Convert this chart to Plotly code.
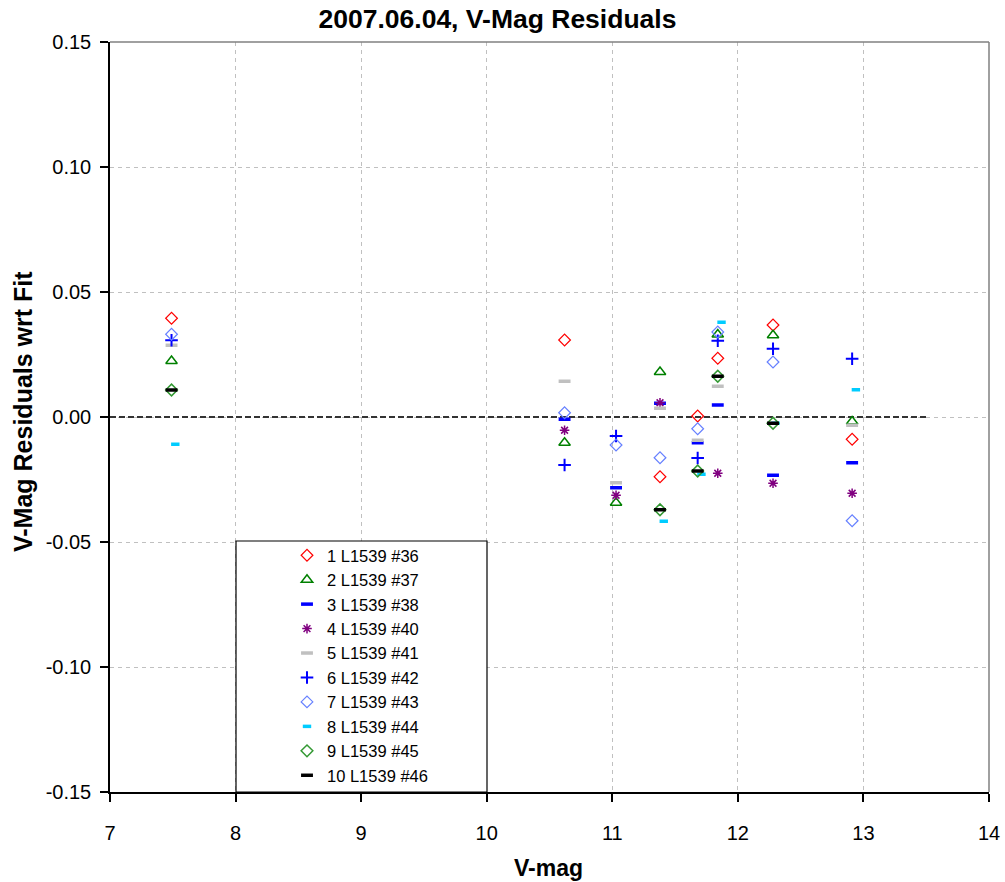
import plotly.graph_objects as go

# ---- data ----
series_names = ["1 L1539 #36", "2 L1539 #37", "3 L1539 #38", "4 L1539 #40", "5 L1539 #41",
                "6 L1539 #42", "7 L1539 #43", "8 L1539 #44", "9 L1539 #45", "10 L1539 #46"]

s1_x = [7.49, 10.62, 11.38, 11.68, 11.84, 12.28, 12.91]
s1_y = [0.0395, 0.0308, -0.0239, 0.0004, 0.0235, 0.0368, -0.0089]

s2_x = [7.49, 10.62, 11.03, 11.38, 11.84, 12.28, 12.91]
s2_y = [0.0224, -0.0103, -0.0343, 0.0180, 0.0330, 0.0327, -0.0018]

s3_x = [10.62, 11.03, 11.38, 11.68, 11.84, 12.28, 12.91]
s3_y = [-0.0009, -0.0283, 0.0055, -0.0103, 0.0048, -0.0233, -0.0183]

s4_x = [10.62, 11.03, 11.38, 11.84, 12.28, 12.91]
s4_y = [-0.0053, -0.0313, 0.0057, -0.0225, -0.0265, -0.0305]

s5_x = [7.49, 10.62, 11.03, 11.38, 11.68, 11.84, 12.91]
s5_y = [0.0287, 0.0143, -0.0263, 0.0035, -0.0093, 0.0123, -0.0033]

s6_x = [7.49, 10.62, 11.03, 11.68, 11.84, 12.28, 12.91]
s6_y = [0.0307, -0.0192, -0.0076, -0.0164, 0.0305, 0.0273, 0.0233]

s7_x = [7.49, 10.62, 11.03, 11.38, 11.68, 11.84, 12.28, 12.91]
s7_y = [0.0331, 0.0017, -0.0112, -0.0163, -0.0047, 0.0340, 0.0220, -0.0415]

s8_x = [7.52, 11.41, 11.71, 11.87, 12.30, 12.94]
s8_y = [-0.0109, -0.0417, -0.0229, 0.0379, -0.0025, 0.0109]

s9_x = [7.49, 11.38, 11.68, 11.84, 12.28]
s9_y = [0.0108, -0.0371, -0.0216, 0.0163, -0.0025]

s10_x = [7.49, 11.38, 11.68, 11.84, 12.28]
s10_y = [0.0108, -0.0371, -0.0216, 0.0163, -0.0025]

fit_x = [7.0, 13.5]
fit_y = [0.0, 0.0]

x_tick_vals = [7, 8, 9, 10, 11, 12, 13, 14]
y_tick_vals = [0.15, 0.10, 0.05, 0.0, -0.05, -0.10, -0.15]
y_tick_text = ["0.15", "0.10", "0.05", "0.00", "-0.05", "-0.10", "-0.15"]

FONT = "Liberation Sans, Arial, sans-serif"

styles = [
    dict(symbol="diamond-open", size=9, color="#FF0000", lw=1.2),
    dict(symbol="triangle-up-open", size=10, color="#008000", lw=1.5),
    dict(symbol="line-ew-open", size=8.5, color="#0000FF", lw=3.5),
    dict(symbol="asterisk-open", size=8, color="#800080", lw=1.5),
    dict(symbol="line-ew-open", size=8.5, color="#C0C0C0", lw=3.5),
    dict(symbol="cross-thin-open", size=9, color="#0000FF", lw=2),
    dict(symbol="diamond-open", size=9, color="#6680FF", lw=1.2),
    dict(symbol="line-ew-open", size=6, color="#00CCFF", lw=3.5),
    dict(symbol="diamond-open", size=9, color="#339933", lw=1.5),
    dict(symbol="line-ew-open", size=8.5, color="#000000", lw=3.5),
]
xs = [s1_x, s2_x, s3_x, s4_x, s5_x, s6_x, s7_x, s8_x, s9_x, s10_x]
ys = [s1_y, s2_y, s3_y, s4_y, s5_y, s6_y, s7_y, s8_y, s9_y, s10_y]

fig = go.Figure()

# fit line (dashed, dark)
fig.add_trace(go.Scatter(x=fit_x, y=fit_y, mode="lines",
                         line=dict(color="#333333", width=2, dash="6px,3px"),
                         showlegend=False, hoverinfo="skip"))

for name, x, y, st in zip(series_names, xs, ys, styles):
    fig.add_trace(go.Scatter(
        x=x, y=y, mode="markers", name=name,
        marker=dict(symbol=st["symbol"], size=st["size"], color=st["color"],
                    line=dict(color=st["color"], width=st["lw"]))))

L, R, T, B = 110, 16, 42, 90
W, H = 1005, 882
pw, ph = W - L - R, H - T - B

def px_to_paper_x(px):
    return (px - L) / pw

def px_to_paper_y(py):
    return (H - B - py) / ph

fig.update_layout(
    width=W, height=H,
    margin=dict(l=L, r=R, t=T, b=B, autoexpand=False),
    paper_bgcolor="white", plot_bgcolor="white",
    font=dict(family=FONT, color="#000000"),
    title=dict(text="2007.06.04, V-Mag Residuals", x=0.495, xref="container",
               xanchor="center", y=1 - 19 / H, yref="container", yanchor="middle",
               font=dict(size=26.5, weight="bold", color="#000000", family=FONT)),
    showlegend=True,
    legend=dict(x=px_to_paper_x(287), y=px_to_paper_y(538), xanchor="left", yanchor="top",
                bgcolor="rgba(0,0,0,0)", borderwidth=0,
                font=dict(size=16.5, family=FONT, color="#000000"),
                tracegroupgap=0),
    xaxis=dict(range=[7, 14], tickvals=x_tick_vals, showgrid=True, automargin=False,
               gridcolor="#C0C0C0", griddash="4px,4px", gridwidth=1,
               showline=True, linecolor="#000000", linewidth=1.5,
               ticks="outside", ticklen=8, tickwidth=1.5, tickcolor="#000000",
               tickfont=dict(size=20, family=FONT, color="#000000"),
               ticklabelstandoff=14, zeroline=False),
    yaxis=dict(range=[-0.15, 0.15], tickvals=y_tick_vals, ticktext=y_tick_text, showgrid=True,
               automargin=False,
               gridcolor="#C0C0C0", griddash="4px,4px", gridwidth=1,
               showline=True, linecolor="#000000", linewidth=1.5,
               ticks="outside", ticklen=8, tickwidth=1.5, tickcolor="#000000",
               tickfont=dict(size=20, family=FONT, color="#000000"),
               ticklabelstandoff=5, zeroline=False),
    annotations=[
        dict(text="V-mag", xref="paper", yref="paper", x=px_to_paper_x(548),
             y=px_to_paper_y(868), xanchor="center", yanchor="middle", showarrow=False,
             font=dict(size=23, weight="bold", family=FONT, color="#000000")),
        dict(text="V-Mag Residuals wrt Fit", xref="paper", yref="paper", x=px_to_paper_x(23),
             y=px_to_paper_y(412), xanchor="center", yanchor="middle", showarrow=False,
             textangle=-90,
             font=dict(size=25, weight="bold", family=FONT, color="#000000")),
    ],
    shapes=[
        # gray top and right frame
        dict(type="line", xref="paper", yref="paper", x0=0, x1=1, y0=1, y1=1,
             line=dict(color="#808080", width=1.5), layer="above"),
        dict(type="line", xref="paper", yref="paper", x0=1, x1=1, y0=0, y1=1,
             line=dict(color="#808080", width=1.5), layer="above"),
        # legend box
        dict(type="rect", xref="paper", yref="paper",
             x0=px_to_paper_x(236), x1=px_to_paper_x(487),
             y0=0, y1=px_to_paper_y(541),
             line=dict(color="#000000", width=1.2), fillcolor="white", layer="above"),
    ],
)

fig.write_html("out.html", config={"displayModeBar": False},
               post_script="document.body.style.margin='0px';document.body.style.padding='0px';")
